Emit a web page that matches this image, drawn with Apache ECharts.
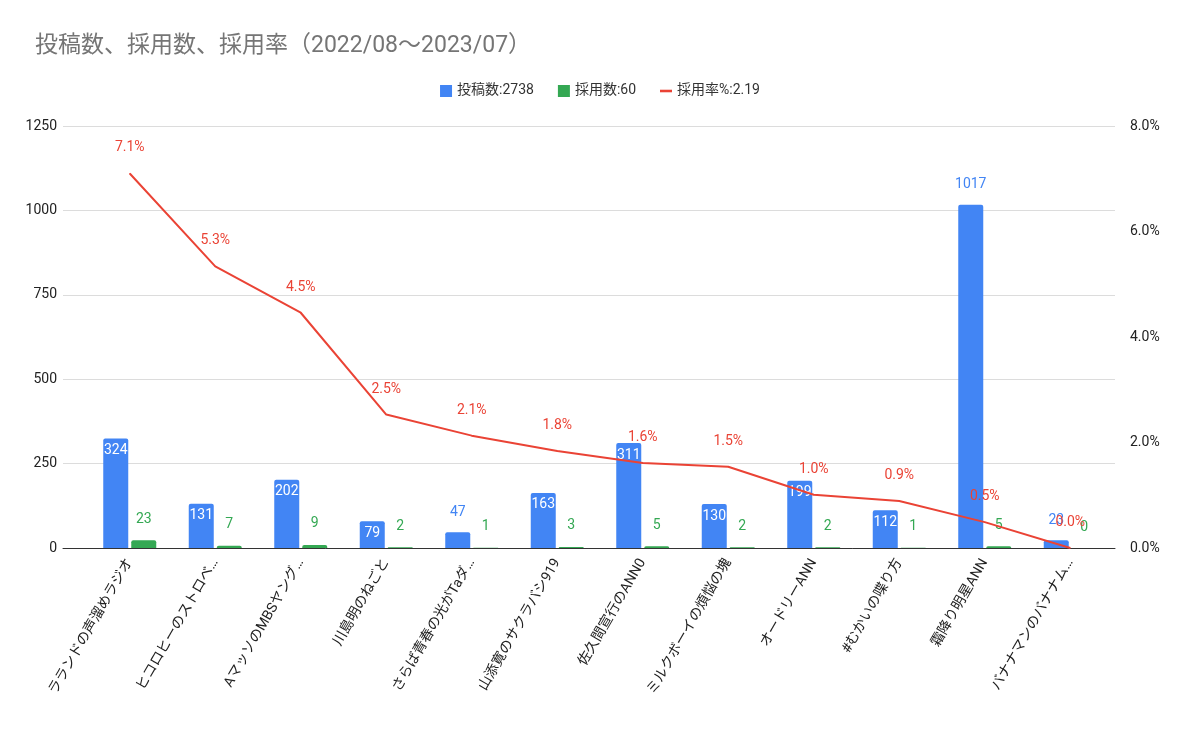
<!DOCTYPE html>
<html><head><meta charset="utf-8">
<script src="https://cdn.jsdelivr.net/npm/echarts@6/dist/echarts.min.js"></script>
<style>html,body{margin:0;padding:0;background:#fff}#c{width:1200px;height:734px}</style>
</head><body><div id="c"></div>
<script>
const categories = ['ラランドの声溜めラジオ','ヒコロヒーのストロベ…','AマッソのMBSヤング…','川島明のねごと','さらば青春の光がTaダ…','山添寛のサクラバシ919','佐久間宣行のANN0','ミルクボーイの煩悩の塊','オードリーANN','#むかいの喋り方','霜降り明星ANN','バナナマンのバナナム…'];
const submissions = [324,131,202,79,47,163,311,130,199,112,1017,23];
const adoptions = [23,7,9,2,1,3,5,2,2,1,5,0];
const rates = [7.10,5.34,4.46,2.53,2.13,1.84,1.61,1.54,1.01,0.89,0.49,0.0];
const leftTicks = {min:0,max:1250,interval:250};
const rightTicks = {min:0,max:8,interval:2};
const legendNames = ['投稿数:2738','採用数:60','採用率%:2.19'];
const titleText = '投稿数、採用数、採用率（2022/08〜2023/07）';

const FONT = "Roboto, 'Noto Sans CJK JP', sans-serif";
const BLUE = '#4285F4', GREEN = '#34A853', RED = '#EA4335';

const blueData = submissions.map(v => {
  const inside = v >= 60 && v < 1000;
  return {
    value: v,
    label: inside
      ? {position:'insideTop', distance:5, color:'#fff'}
      : {position:'top', distance:13, color:BLUE}
  };
});

const chart = echarts.init(document.getElementById('c'));
chart.setOption({
  animation:false,
  textStyle:{fontFamily:FONT},
  title:{text:titleText,left:30,top:30,textStyle:{fontFamily:FONT,fontSize:23,fontWeight:'normal',color:'#757575'}},
  legend:{
    top:79,left:'center',itemGap:24,itemWidth:12,itemHeight:12,
    textStyle:{fontFamily:FONT,fontSize:14,color:'#333'},
    data:[{name:legendNames[0],icon:'rect'},{name:legendNames[1],icon:'rect'},
          {name:legendNames[2],icon:'path://M0,5h14v3h-14z'}]
  },
  grid:[
    {left:87,right:87,top:126,bottom:186,containLabel:false},
    {left:63,right:85,top:126,bottom:186,containLabel:false}
  ],
  xAxis:[
    {type:'category',data:categories,gridIndex:0,
     axisTick:{show:false},axisLine:{show:false},
     axisLabel:{rotate:60,interval:0,fontSize:14,color:'#222',fontFamily:FONT,margin:12}},
    {type:'value',gridIndex:1,min:0,max:1,
     axisLine:{show:true,lineStyle:{color:'#333',width:1}},axisTick:{show:false},
     axisLabel:{show:false},splitLine:{show:false}}
  ],
  yAxis:[
    {type:'value',gridIndex:0,min:leftTicks.min,max:leftTicks.max,interval:leftTicks.interval,
     axisLine:{show:false},axisTick:{show:false},
     axisLabel:{fontSize:14,color:'#222',margin:30,fontFamily:FONT,formatter:v=>String(v)},
     splitLine:{show:false}},
    {type:'value',gridIndex:0,min:rightTicks.min,max:rightTicks.max,interval:rightTicks.interval,
     axisLine:{show:false},axisTick:{show:false},
     axisLabel:{fontSize:14,color:'#222',margin:17,fontFamily:FONT,formatter:v=>v.toFixed(1)+'%'},
     splitLine:{show:false}},
    {type:'value',gridIndex:1,min:leftTicks.min,max:leftTicks.max,interval:leftTicks.interval,
     axisLine:{show:false},axisTick:{show:false},axisLabel:{show:false},
     splitLine:{lineStyle:{color:'#dcdcdc'}}}
  ],
  series:[
    {name:legendNames[0],type:'bar',data:blueData,barWidth:25,barGap:'12%',z:3,
     itemStyle:{color:BLUE,borderRadius:[2,2,0,0]},
     label:{show:true,fontSize:14,fontFamily:FONT}},
    {name:legendNames[1],type:'bar',data:adoptions,barWidth:25,z:3,
     itemStyle:{color:GREEN,borderRadius:[2,2,0,0]},
     label:{show:true,position:'top',distance:14,color:GREEN,fontSize:14,fontFamily:FONT}},
    {name:legendNames[2],type:'line',yAxisIndex:1,data:rates,symbol:'circle',symbolSize:1,showSymbol:true,z:5,
     lineStyle:{color:RED,width:2},itemStyle:{color:RED},
     label:{show:true,position:'top',distance:18,color:RED,fontSize:14,fontFamily:FONT,
       formatter:p=>p.value.toFixed(1)+'%'}}
  ]
});
</script></body></html>
